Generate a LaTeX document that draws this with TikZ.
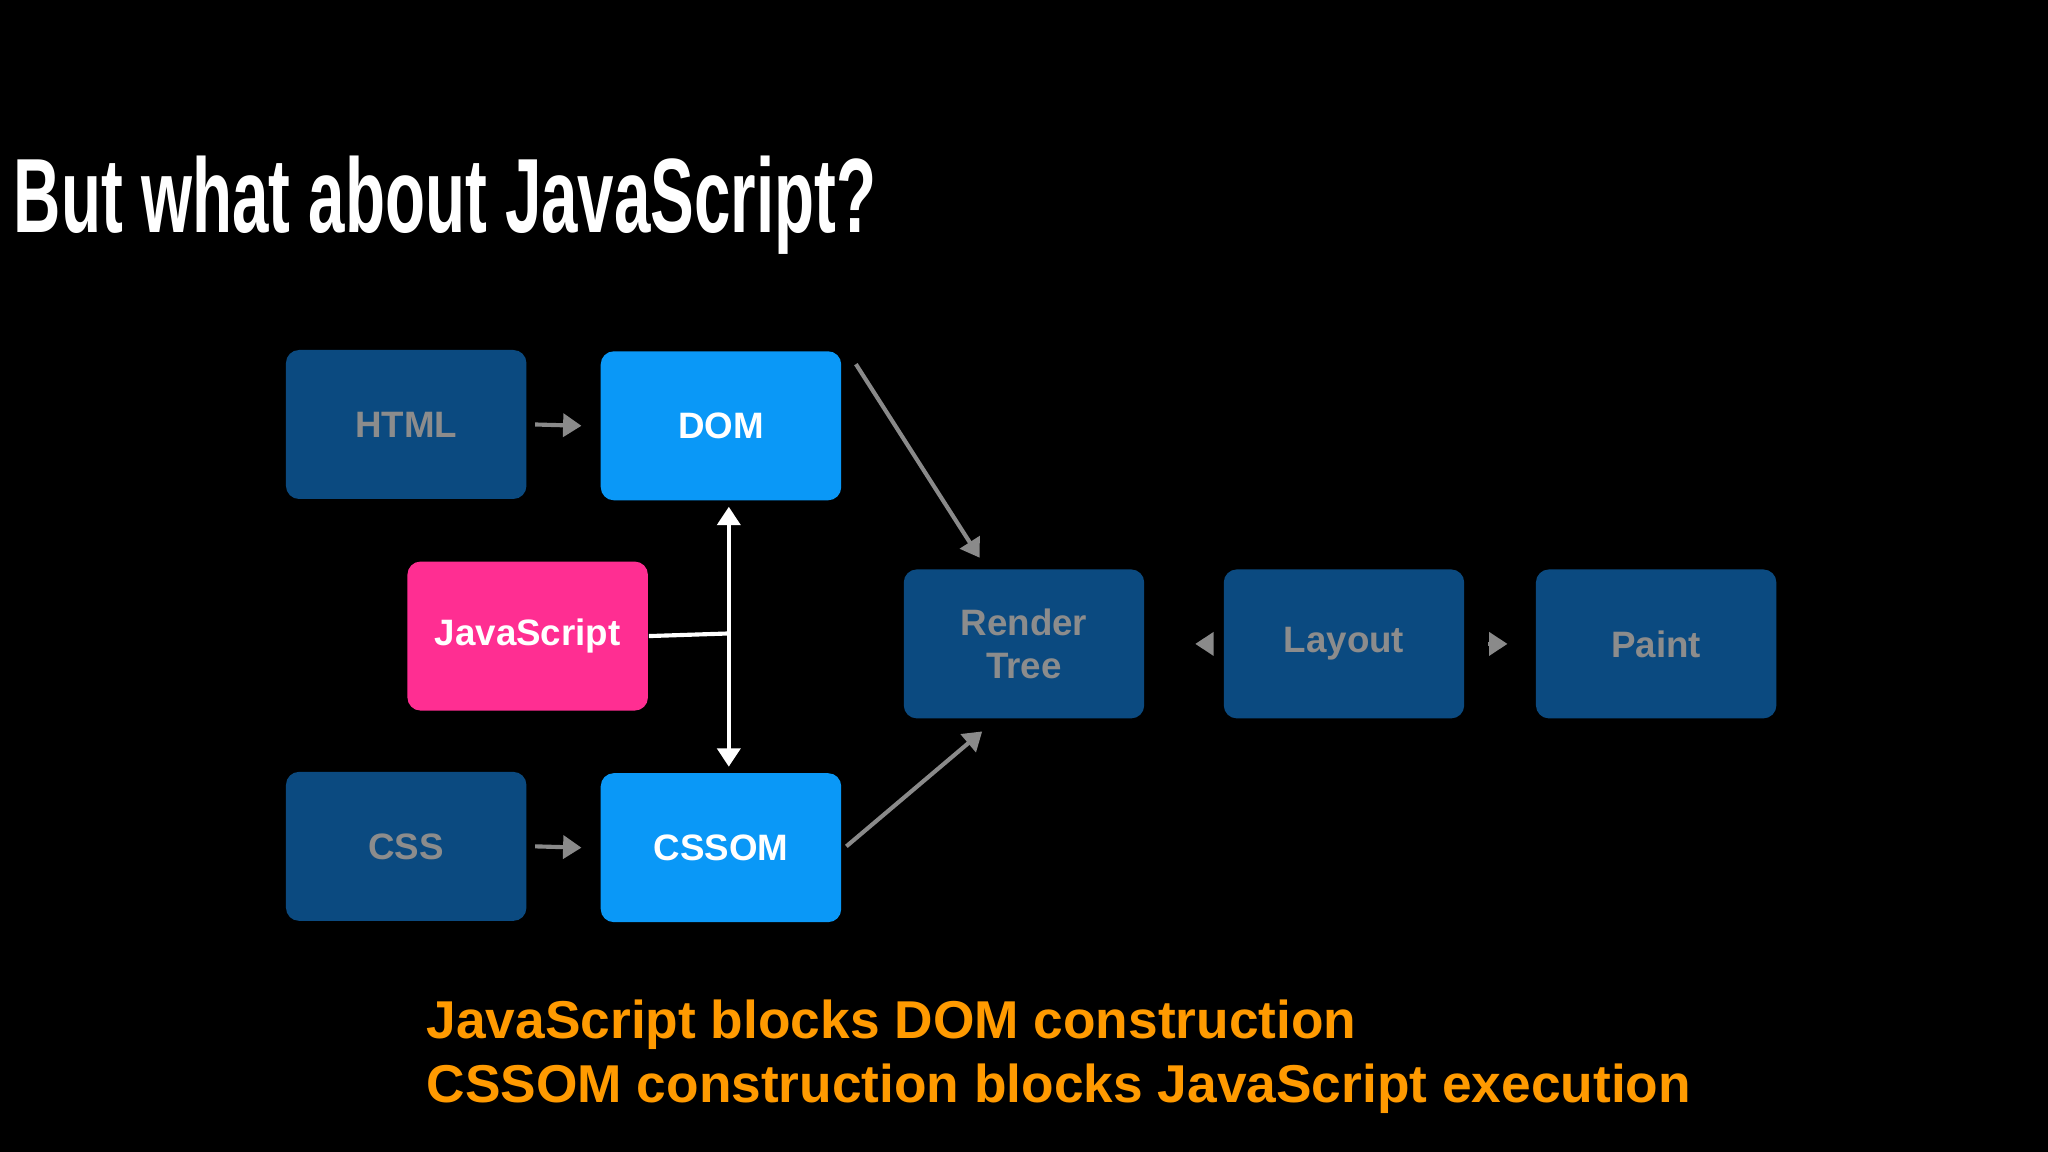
\documentclass[tikz,border=0pt]{standalone}
\usepackage{fontspec}
\setmainfont{Liberation Sans}
\newfontfamily\titlefont[FakeStretch=0.62]{Liberation Sans}
\usetikzlibrary{arrows.meta}
\definecolor{darkbox}{HTML}{0B4A80}
\definecolor{brightbox}{HTML}{0A98F7}
\definecolor{pinkbox}{HTML}{FF2E92}
\definecolor{greytext}{HTML}{8C8C8C}
\definecolor{greyarrow}{HTML}{8A8A8A}
\definecolor{orangetext}{HTML}{FF9A00}
\tikzset{
 box/.style={rounded corners=0.1cm, minimum width=1.84cm, minimum height=1.14cm, font=\fontsize{8}{9.5}\selectfont\bfseries, align=center},
 dark/.style={box, fill=darkbox, text=greytext},
 bright/.style={box, fill=brightbox, text=white},
 pink/.style={box, fill=pinkbox, text=white},
 garrow/.style={draw=greyarrow, line width=0.9pt, -{Triangle[length=4pt,width=5pt]}},
 warrow/.style={draw=white, line width=0.9pt, {Triangle[length=4pt,width=5pt]}-{Triangle[length=4pt,width=5pt]}},
}
\begin{document}
\begin{tikzpicture}[x=0.01cm,y=-0.01cm]
\fill[black] (0,0) rectangle (1568,882);
\useasboundingbox (0,0) rectangle (1568,882);
\node[anchor=base west, inner sep=0, text=white, font=\titlefont\fontsize{23}{23}\selectfont\bfseries] (title) at (10,178) {But what about JavaScript?};
\node[dark] (html) at (311,325) {HTML};
\node[bright] (dom) at (552,326) {DOM};
\node[pink] (js) at (404,487) {JavaScript};
\node[dark] (css) at (311,648) {CSS};
\node[bright] (cssom) at (552,649) {CSSOM};
\node[dark] (render) at (784,493) {Render\\Tree};
\node[dark] (layout) at (1029,493) {Layout};
\node[dark] (paint) at (1268,493) {Paint};
\coordinate (top) at (558,388);
\coordinate (bot) at (558,587);
\coordinate (mid) at (558,485);
\draw[garrow] (html.east) ++(6,0) -- ([xshift=-4pt]dom.west);
\draw[garrow] (css.east) ++(6,0) -- ([xshift=-4pt]cssom.west);
\draw[garrow] ([xshift=3pt,yshift=-3pt]dom.north east) ++(0,0) -- (750,427);
\draw[garrow] (648,648) -- (752,560);
\draw[garrow] ([xshift=12]render.east) -- ([xshift=-6]layout.west);
\draw[garrow] ([xshift=5]layout.east) -- ([xshift=-6]paint.west);
\draw[warrow] (top) -- (bot);
\draw[white, line width=0.9pt] (js.east) -- (mid);
\node[anchor=base west, inner sep=0, text=orangetext, font=\fontsize{11.6}{14}\selectfont\bfseries] (l1) at (326,795) {JavaScript blocks DOM construction};
\node[anchor=base west, inner sep=0, text=orangetext, font=\fontsize{11.6}{14}\selectfont\bfseries] (l2) at (326,844) {CSSOM construction blocks JavaScript execution};
\end{tikzpicture}
\end{document}
